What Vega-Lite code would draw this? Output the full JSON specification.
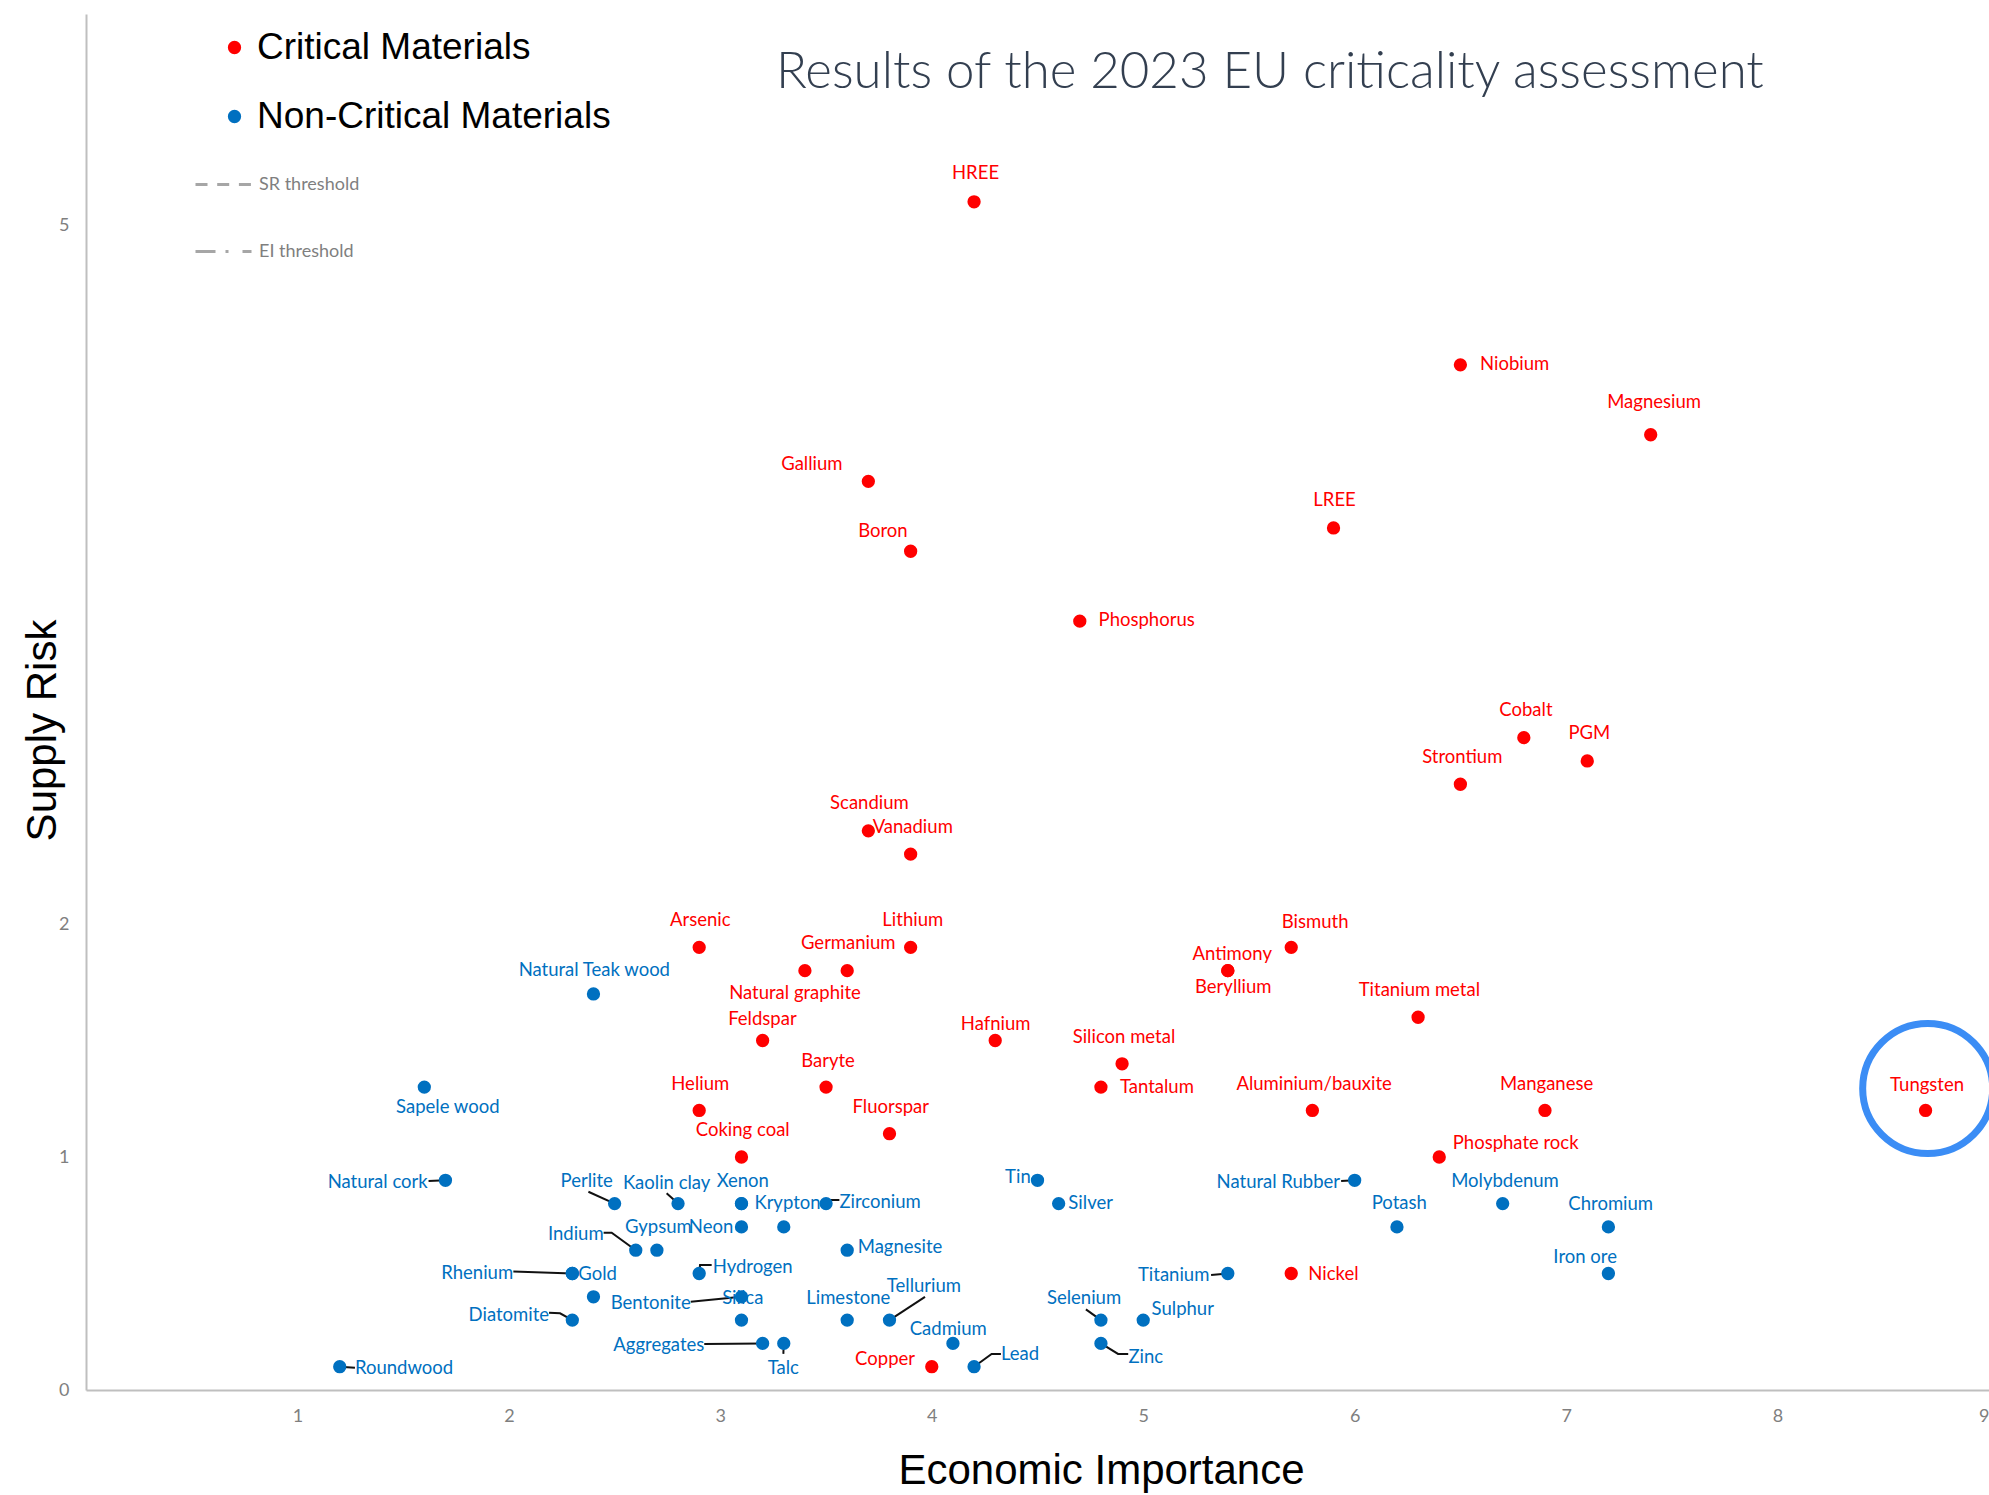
{
  "$schema": "https://vega.github.io/schema/vega-lite/v6.json",
  "width": 1903,
  "height": 1376,
  "autosize": {"type": "none"},
  "padding": {"left": 86, "top": 14, "right": 0, "bottom": 105},
  "background": "white",
  "config": {
    "view": {"stroke": null},
    "font": "Lato",
    "axis": {
      "grid": false,
      "ticks": false,
      "domainColor": "#bfbfbf",
      "domainWidth": 2,
      "labelColor": "#7f7f7f",
      "labelFont": "Lato",
      "labelFontSize": 18,
      "titleFont": "Liberation Sans",
      "titleFontSize": 42,
      "titleFontWeight": "normal",
      "titleColor": "#000000"
    },
    "axisX": {"labelPadding": 17, "titleX": 1015, "titleY": 80, "titleBaseline": "middle", "titleAnchor": null},
    "axisY": {"labelPadding": 17, "titleX": -44, "titleY": 716, "titleBaseline": "middle", "titleAngle": -90, "titleAnchor": null}
  },
  "title": {
    "text": "Results of the 2023 EU criticality assessment",
    "anchor": "start",
    "frame": "group",
    "orient": "top",
    "offset": -110,
    "dx": 690,
    "fontSize": 51,
    "font": "Lato",
    "fontWeight": 300,
    "color": "#333f50",
    "baseline": "middle"
  },
  "datasets": {
    "materials": [
      {"material": "HREE", "group": "Critical Materials", "ei": 4.2, "sr": 5.1, "lx": 4.207, "ly": 5.223, "side": "c"},
      {"material": "Niobium", "group": "Critical Materials", "ei": 6.5, "sr": 4.4, "lx": 6.593, "ly": 4.403, "side": "r"},
      {"material": "Magnesium", "group": "Critical Materials", "ei": 7.4, "sr": 4.1, "lx": 7.416, "ly": 4.24, "side": "c"},
      {"material": "Gallium", "group": "Critical Materials", "ei": 3.7, "sr": 3.9, "lx": 3.433, "ly": 3.973, "side": "c"},
      {"material": "LREE", "group": "Critical Materials", "ei": 5.9, "sr": 3.7, "lx": 5.905, "ly": 3.821, "side": "c"},
      {"material": "Boron", "group": "Critical Materials", "ei": 3.9, "sr": 3.6, "lx": 3.769, "ly": 3.685, "side": "c"},
      {"material": "Phosphorus", "group": "Critical Materials", "ei": 4.7, "sr": 3.3, "lx": 4.789, "ly": 3.303, "side": "r"},
      {"material": "Cobalt", "group": "Critical Materials", "ei": 6.8, "sr": 2.8, "lx": 6.81, "ly": 2.918, "side": "c"},
      {"material": "PGM", "group": "Critical Materials", "ei": 7.1, "sr": 2.7, "lx": 7.11, "ly": 2.818, "side": "c"},
      {"material": "Strontium", "group": "Critical Materials", "ei": 6.5, "sr": 2.6, "lx": 6.509, "ly": 2.715, "side": "c"},
      {"material": "Scandium", "group": "Critical Materials", "ei": 3.7, "sr": 2.4, "lx": 3.705, "ly": 2.518, "side": "c"},
      {"material": "Vanadium", "group": "Critical Materials", "ei": 3.9, "sr": 2.3, "lx": 3.91, "ly": 2.418, "side": "c"},
      {"material": "Arsenic", "group": "Critical Materials", "ei": 2.9, "sr": 1.9, "lx": 2.905, "ly": 2.017, "side": "c"},
      {"material": "Lithium", "group": "Critical Materials", "ei": 3.9, "sr": 1.9, "lx": 3.91, "ly": 2.017, "side": "c"},
      {"material": "Germanium", "group": "Critical Materials", "ei": 3.6, "sr": 1.8, "lx": 3.605, "ly": 1.917, "side": "c"},
      {"material": "Natural graphite", "group": "Critical Materials", "ei": 3.4, "sr": 1.8, "lx": 3.353, "ly": 1.705, "side": "c"},
      {"material": "Antimony", "group": "Critical Materials", "ei": 5.4, "sr": 1.8, "lx": 5.421, "ly": 1.871, "side": "c"},
      {"material": "Beryllium", "group": "Critical Materials", "ei": 5.4, "sr": 1.8, "lx": 5.426, "ly": 1.728, "side": "c"},
      {"material": "Bismuth", "group": "Critical Materials", "ei": 5.7, "sr": 1.9, "lx": 5.813, "ly": 2.01, "side": "c"},
      {"material": "Titanium metal", "group": "Critical Materials", "ei": 6.3, "sr": 1.6, "lx": 6.306, "ly": 1.717, "side": "c"},
      {"material": "Feldspar", "group": "Critical Materials", "ei": 3.2, "sr": 1.5, "lx": 3.199, "ly": 1.591, "side": "c"},
      {"material": "Hafnium", "group": "Critical Materials", "ei": 4.3, "sr": 1.5, "lx": 4.302, "ly": 1.571, "side": "c"},
      {"material": "Silicon metal", "group": "Critical Materials", "ei": 4.9, "sr": 1.4, "lx": 4.909, "ly": 1.516, "side": "c"},
      {"material": "Baryte", "group": "Critical Materials", "ei": 3.5, "sr": 1.3, "lx": 3.509, "ly": 1.413, "side": "c"},
      {"material": "Tantalum", "group": "Critical Materials", "ei": 4.8, "sr": 1.3, "lx": 4.89, "ly": 1.299, "side": "r"},
      {"material": "Helium", "group": "Critical Materials", "ei": 2.9, "sr": 1.2, "lx": 2.905, "ly": 1.313, "side": "c"},
      {"material": "Aluminium/bauxite", "group": "Critical Materials", "ei": 5.8, "sr": 1.2, "lx": 5.808, "ly": 1.313, "side": "c"},
      {"material": "Manganese", "group": "Critical Materials", "ei": 6.9, "sr": 1.2, "lx": 6.908, "ly": 1.312, "side": "c"},
      {"material": "Tungsten", "group": "Critical Materials", "ei": 8.7, "sr": 1.2, "lx": 8.707, "ly": 1.311, "side": "c"},
      {"material": "Fluorspar", "group": "Critical Materials", "ei": 3.8, "sr": 1.1, "lx": 3.806, "ly": 1.216, "side": "c"},
      {"material": "Coking coal", "group": "Critical Materials", "ei": 3.1, "sr": 1.0, "lx": 3.106, "ly": 1.116, "side": "c"},
      {"material": "Phosphate rock", "group": "Critical Materials", "ei": 6.4, "sr": 1.0, "lx": 6.464, "ly": 1.059, "side": "r"},
      {"material": "Nickel", "group": "Critical Materials", "ei": 5.7, "sr": 0.5, "lx": 5.781, "ly": 0.498, "side": "r"},
      {"material": "Copper", "group": "Critical Materials", "ei": 4.0, "sr": 0.1, "lx": 3.779, "ly": 0.133, "side": "c"},
      {"material": "Natural Teak wood", "group": "Non-Critical Materials", "ei": 2.4, "sr": 1.7, "lx": 2.404, "ly": 1.803, "side": "c"},
      {"material": "Sapele wood", "group": "Non-Critical Materials", "ei": 1.6, "sr": 1.3, "lx": 1.711, "ly": 1.216, "side": "c"},
      {"material": "Natural cork", "group": "Non-Critical Materials", "ei": 1.7, "sr": 0.9, "lx": 1.616, "ly": 0.894, "side": "l"},
      {"material": "Perlite", "group": "Non-Critical Materials", "ei": 2.5, "sr": 0.8, "lx": 2.368, "ly": 0.898, "side": "c"},
      {"material": "Kaolin clay", "group": "Non-Critical Materials", "ei": 2.8, "sr": 0.8, "lx": 2.746, "ly": 0.89, "side": "c"},
      {"material": "Xenon", "group": "Non-Critical Materials", "ei": 3.1, "sr": 0.8, "lx": 3.106, "ly": 0.898, "side": "c"},
      {"material": "Krypton", "group": "Non-Critical Materials", "ei": 3.1, "sr": 0.8, "lx": 3.161, "ly": 0.801, "side": "r"},
      {"material": "Zirconium", "group": "Non-Critical Materials", "ei": 3.5, "sr": 0.8, "lx": 3.563, "ly": 0.808, "side": "r"},
      {"material": "Tin", "group": "Non-Critical Materials", "ei": 4.5, "sr": 0.9, "lx": 4.468, "ly": 0.913, "side": "l"},
      {"material": "Silver", "group": "Non-Critical Materials", "ei": 4.6, "sr": 0.8, "lx": 4.646, "ly": 0.801, "side": "r"},
      {"material": "Natural Rubber", "group": "Non-Critical Materials", "ei": 6.0, "sr": 0.9, "lx": 5.931, "ly": 0.894, "side": "l"},
      {"material": "Molybdenum", "group": "Non-Critical Materials", "ei": 6.7, "sr": 0.8, "lx": 6.711, "ly": 0.898, "side": "c"},
      {"material": "Potash", "group": "Non-Critical Materials", "ei": 6.2, "sr": 0.7, "lx": 6.211, "ly": 0.801, "side": "c"},
      {"material": "Chromium", "group": "Non-Critical Materials", "ei": 7.2, "sr": 0.7, "lx": 7.211, "ly": 0.798, "side": "c"},
      {"material": "Gypsum", "group": "Non-Critical Materials", "ei": 2.7, "sr": 0.6, "lx": 2.707, "ly": 0.701, "side": "c"},
      {"material": "Neon", "group": "Non-Critical Materials", "ei": 3.1, "sr": 0.7, "lx": 3.061, "ly": 0.701, "side": "l"},
      {"material": null, "group": "Non-Critical Materials", "ei": 3.3, "sr": 0.7, "lx": null, "ly": null, "side": null},
      {"material": "Indium", "group": "Non-Critical Materials", "ei": 2.6, "sr": 0.6, "lx": 2.448, "ly": 0.668, "side": "l"},
      {"material": "Magnesite", "group": "Non-Critical Materials", "ei": 3.6, "sr": 0.6, "lx": 3.65, "ly": 0.612, "side": "r"},
      {"material": "Rhenium", "group": "Non-Critical Materials", "ei": 2.3, "sr": 0.5, "lx": 2.02, "ly": 0.503, "side": "l"},
      {"material": "Gold", "group": "Non-Critical Materials", "ei": 2.3, "sr": 0.5, "lx": 2.328, "ly": 0.498, "side": "r"},
      {"material": "Hydrogen", "group": "Non-Critical Materials", "ei": 2.9, "sr": 0.5, "lx": 2.964, "ly": 0.529, "side": "r"},
      {"material": "Titanium", "group": "Non-Critical Materials", "ei": 5.4, "sr": 0.5, "lx": 5.313, "ly": 0.494, "side": "l"},
      {"material": "Iron ore", "group": "Non-Critical Materials", "ei": 7.2, "sr": 0.5, "lx": 7.09, "ly": 0.572, "side": "c"},
      {"material": null, "group": "Non-Critical Materials", "ei": 2.4, "sr": 0.4, "lx": null, "ly": null, "side": null},
      {"material": "Bentonite", "group": "Non-Critical Materials", "ei": 3.1, "sr": 0.4, "lx": 2.86, "ly": 0.372, "side": "l"},
      {"material": "Silica", "group": "Non-Critical Materials", "ei": 3.1, "sr": 0.3, "lx": 3.106, "ly": 0.394, "side": "c"},
      {"material": "Diatomite", "group": "Non-Critical Materials", "ei": 2.3, "sr": 0.3, "lx": 2.19, "ly": 0.322, "side": "l"},
      {"material": "Limestone", "group": "Non-Critical Materials", "ei": 3.6, "sr": 0.3, "lx": 3.605, "ly": 0.396, "side": "c"},
      {"material": "Tellurium", "group": "Non-Critical Materials", "ei": 3.8, "sr": 0.3, "lx": 3.963, "ly": 0.446, "side": "c"},
      {"material": "Selenium", "group": "Non-Critical Materials", "ei": 4.8, "sr": 0.3, "lx": 4.72, "ly": 0.396, "side": "c"},
      {"material": "Sulphur", "group": "Non-Critical Materials", "ei": 5.0, "sr": 0.3, "lx": 5.187, "ly": 0.348, "side": "c"},
      {"material": "Aggregates", "group": "Non-Critical Materials", "ei": 3.2, "sr": 0.2, "lx": 2.924, "ly": 0.193, "side": "l"},
      {"material": "Talc", "group": "Non-Critical Materials", "ei": 3.3, "sr": 0.2, "lx": 3.298, "ly": 0.093, "side": "c"},
      {"material": "Cadmium", "group": "Non-Critical Materials", "ei": 4.1, "sr": 0.2, "lx": 4.078, "ly": 0.262, "side": "c"},
      {"material": "Zinc", "group": "Non-Critical Materials", "ei": 4.8, "sr": 0.2, "lx": 4.93, "ly": 0.143, "side": "r"},
      {"material": "Lead", "group": "Non-Critical Materials", "ei": 4.2, "sr": 0.1, "lx": 4.327, "ly": 0.155, "side": "r"},
      {"material": "Roundwood", "group": "Non-Critical Materials", "ei": 1.2, "sr": 0.1, "lx": 1.272, "ly": 0.093, "side": "r"}
    ],
    "leaders": [
      {"material": "Natural cork", "step": 1, "ei": 1.62, "sr": 0.897},
      {"material": "Natural cork", "step": 2, "ei": 1.7, "sr": 0.9},
      {"material": "Perlite", "step": 1, "ei": 2.376, "sr": 0.851},
      {"material": "Perlite", "step": 2, "ei": 2.5, "sr": 0.8},
      {"material": "Kaolin clay", "step": 1, "ei": 2.746, "sr": 0.844},
      {"material": "Kaolin clay", "step": 2, "ei": 2.8, "sr": 0.8},
      {"material": "Zirconium", "step": 1, "ei": 3.5, "sr": 0.8},
      {"material": "Zirconium", "step": 2, "ei": 3.518, "sr": 0.815},
      {"material": "Zirconium", "step": 3, "ei": 3.563, "sr": 0.815},
      {"material": "Indium", "step": 1, "ei": 2.448, "sr": 0.675},
      {"material": "Indium", "step": 2, "ei": 2.486, "sr": 0.675},
      {"material": "Indium", "step": 3, "ei": 2.6, "sr": 0.6},
      {"material": "Rhenium", "step": 1, "ei": 2.021, "sr": 0.509},
      {"material": "Rhenium", "step": 2, "ei": 2.3, "sr": 0.5},
      {"material": "Diatomite", "step": 1, "ei": 2.19, "sr": 0.332},
      {"material": "Diatomite", "step": 2, "ei": 2.242, "sr": 0.329},
      {"material": "Diatomite", "step": 3, "ei": 2.3, "sr": 0.3},
      {"material": "Hydrogen", "step": 1, "ei": 2.9, "sr": 0.5},
      {"material": "Hydrogen", "step": 2, "ei": 2.904, "sr": 0.536},
      {"material": "Hydrogen", "step": 3, "ei": 2.959, "sr": 0.536},
      {"material": "Bentonite", "step": 1, "ei": 2.86, "sr": 0.379},
      {"material": "Bentonite", "step": 2, "ei": 3.1, "sr": 0.4},
      {"material": "Aggregates", "step": 1, "ei": 2.924, "sr": 0.197},
      {"material": "Aggregates", "step": 2, "ei": 3.2, "sr": 0.2},
      {"material": "Talc", "step": 1, "ei": 3.3, "sr": 0.2},
      {"material": "Talc", "step": 2, "ei": 3.298, "sr": 0.155},
      {"material": "Tellurium", "step": 1, "ei": 3.8, "sr": 0.3},
      {"material": "Tellurium", "step": 2, "ei": 3.968, "sr": 0.4},
      {"material": "Lead", "step": 1, "ei": 4.2, "sr": 0.1},
      {"material": "Lead", "step": 2, "ei": 4.283, "sr": 0.155},
      {"material": "Lead", "step": 3, "ei": 4.327, "sr": 0.155},
      {"material": "Natural Rubber", "step": 1, "ei": 5.936, "sr": 0.897},
      {"material": "Natural Rubber", "step": 2, "ei": 6.0, "sr": 0.9},
      {"material": "Titanium", "step": 1, "ei": 5.321, "sr": 0.494},
      {"material": "Titanium", "step": 2, "ei": 5.4, "sr": 0.5},
      {"material": "Selenium", "step": 1, "ei": 4.729, "sr": 0.346},
      {"material": "Selenium", "step": 2, "ei": 4.8, "sr": 0.3},
      {"material": "Zinc", "step": 1, "ei": 4.8, "sr": 0.2},
      {"material": "Zinc", "step": 2, "ei": 4.881, "sr": 0.155},
      {"material": "Zinc", "step": 3, "ei": 4.929, "sr": 0.155},
      {"material": "Roundwood", "step": 1, "ei": 1.2, "sr": 0.1},
      {"material": "Roundwood", "step": 2, "ei": 1.272, "sr": 0.095}
    ],
    "highlight": [
      {"material": "Tungsten", "ei": 8.71, "sr": 1.294}
    ]
  },
  "layer": [
    {
      "mark": {"type": "rule", "color": "#a6a6a6", "strokeWidth": 3.5},
      "encoding": {
        "x": {"datum": 2.8, "type": "quantitative", "title": "Economic Importance"},
        "strokeDash": {
          "datum": "EI threshold",
          "type": "nominal",
          "scale": {"domain": ["SR threshold", "EI threshold"], "range": [[12, 9.7], [20, 10, 3, 14]]},
          "legend": {
            "title": null,
            "orient": "none",
            "legendX": 108,
            "legendY": 141,
            "padding": 0,
            "symbolType": "stroke",
            "symbolSize": 3136,
            "symbolStrokeWidth": 3,
            "symbolStrokeColor": "#a6a6a6",
            "labelFont": "Lato",
            "labelFontSize": 18,
            "labelColor": "#7f7f7f",
            "labelOffset": 6,
            "labelLimit": 0,
            "rowPadding": 28
          }
        }
      }
    },
    {
      "mark": {"type": "rule", "color": "#a6a6a6", "strokeWidth": 3.3},
      "encoding": {
        "y": {"datum": 1, "type": "quantitative", "title": "Supply Risk"},
        "strokeDash": {"datum": "SR threshold", "type": "nominal"}
      }
    },
    {
      "data": {"name": "leaders"},
      "mark": {"type": "line", "color": "#111111", "strokeWidth": 2},
      "encoding": {
        "x": {"field": "ei", "type": "quantitative", "title": "Economic Importance"},
        "y": {"field": "sr", "type": "quantitative", "title": "Supply Risk"},
        "detail": {"field": "material"},
        "order": {"field": "step"}
      }
    },
    {
      "data": {"name": "highlight"},
      "mark": {"type": "point", "shape": "circle", "filled": false, "stroke": "#3b8df5", "strokeWidth": 7, "size": 16900, "opacity": 1},
      "encoding": {
        "x": {"field": "ei", "type": "quantitative", "title": "Economic Importance"},
        "y": {"field": "sr", "type": "quantitative", "title": "Supply Risk"}
      }
    },
    {
      "data": {"name": "materials"},
      "mark": {"type": "point", "shape": "circle", "filled": true, "size": 177, "opacity": 1, "strokeWidth": 0},
      "encoding": {
        "x": {
          "field": "ei", "type": "quantitative", "title": "Economic Importance",
          "scale": {"domain": [0, 9], "nice": false, "zero": false},
          "axis": {"values": [1, 2, 3, 4, 5, 6, 7, 8, 9], "format": "d"}
        },
        "y": {
          "field": "sr", "type": "quantitative", "title": "Supply Risk",
          "scale": {"domain": [0, 5.906], "nice": false},
          "axis": {"values": [0, 1, 2, 5], "format": "d"}
        },
        "color": {
          "field": "group", "type": "nominal",
          "scale": {"domain": ["Critical Materials", "Non-Critical Materials"], "range": ["#ff0000", "#0070c0"]},
          "legend": {
            "title": null,
            "orient": "none",
            "legendX": 130,
            "legendY": 15,
            "padding": 0,
            "symbolType": "circle",
            "symbolSize": 177,
            "symbolStrokeWidth": 0,
            "labelFont": "Liberation Sans",
            "labelFontSize": 37,
            "labelColor": "#000000",
            "labelOffset": 4,
            "labelLimit": 0,
            "rowPadding": 31
          }
        }
      }
    },
    {
      "data": {"name": "materials"},
      "transform": [{"filter": "datum.side === 'c'"}],
      "mark": {"type": "text", "align": "center", "baseline": "middle", "font": "Lato", "fontSize": 18.5},
      "encoding": {
        "x": {"field": "lx", "type": "quantitative", "title": "Economic Importance"},
        "y": {"field": "ly", "type": "quantitative", "title": "Supply Risk"},
        "text": {"field": "material"},
        "color": {"field": "group", "type": "nominal", "legend": null}
      }
    },
    {
      "data": {"name": "materials"},
      "transform": [{"filter": "datum.side === 'l'"}],
      "mark": {"type": "text", "align": "right", "baseline": "middle", "font": "Lato", "fontSize": 18.5},
      "encoding": {
        "x": {"field": "lx", "type": "quantitative", "title": "Economic Importance"},
        "y": {"field": "ly", "type": "quantitative", "title": "Supply Risk"},
        "text": {"field": "material"},
        "color": {"field": "group", "type": "nominal", "legend": null}
      }
    },
    {
      "data": {"name": "materials"},
      "transform": [{"filter": "datum.side === 'r'"}],
      "mark": {"type": "text", "align": "left", "baseline": "middle", "font": "Lato", "fontSize": 18.5},
      "encoding": {
        "x": {"field": "lx", "type": "quantitative", "title": "Economic Importance"},
        "y": {"field": "ly", "type": "quantitative", "title": "Supply Risk"},
        "text": {"field": "material"},
        "color": {"field": "group", "type": "nominal", "legend": null}
      }
    }
  ]
}
